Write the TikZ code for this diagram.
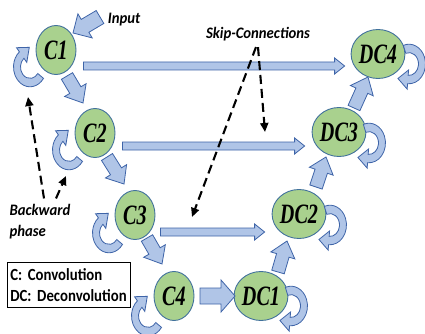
\documentclass[tikz,border=0pt]{standalone}
\usepackage{fontspec}
\setmainfont{Carlito}
\newfontfamily\nodefont[FakeStretch=0.72]{Liberation Serif}
\newfontfamily\labelfont[FakeStretch=0.92]{Carlito}
\newfontfamily\legendfont[FakeStretch=0.87]{Carlito}
\usetikzlibrary{calc,shapes.geometric,arrows.meta}

\definecolor{nodegreen}{RGB}{169,209,142}
\definecolor{nodeblue}{RGB}{65,113,156}
\definecolor{arrowfill}{RGB}{176,197,231}
\definecolor{arrowline}{RGB}{62,100,168}

\tikzset{
  layer/.style={ellipse, draw=nodeblue, line width=0.9pt, fill=nodegreen,
    minimum width=40pt, minimum height=49pt, inner sep=0pt,
    font=\nodefont\bfseries\itshape\fontsize{28}{28}\selectfont},
  blockarrow/.style={draw=arrowline, fill=arrowfill, line width=0.8pt, line join=miter},
  hint/.style={black, line width=2.1pt, dash pattern=on 9pt off 5pt,
    -{Triangle[length=9pt,width=8pt]}},
  tag/.style={font=\labelfont\bfseries\itshape\fontsize{16}{21}\selectfont,
    inner sep=0pt, align=left},
}

% straight block arrow: #1 tail, #2 tip, #3 half body width, #4 half head width, #5 head length
\newcommand\blockarrow[5]{%
  \coordinate (ba-t) at #1;
  \coordinate (ba-p) at #2;
  \coordinate (ba-h) at ($(ba-p)!#5pt!(ba-t)$);
  \draw[blockarrow] ($(ba-t)!#3pt!90:(ba-p)$) -- ($(ba-h)!#3pt!90:(ba-p)$)
    -- ($(ba-h)!#4pt!90:(ba-p)$) -- (ba-p) -- ($(ba-h)!#4pt!-90:(ba-p)$)
    -- ($(ba-h)!#3pt!-90:(ba-p)$) -- ($(ba-t)!#3pt!-90:(ba-p)$) -- cycle;
}

% curved self-loop arrow next to a node: #1 node, #2 offset of the loop centre, #3 start angle, #4 end angle
\newcommand\selfloop[4]{%
  \coordinate (#1-loop) at ([shift={(#2)}]#1.center);
  \begin{scope}[shift={(#1-loop)}, yscale=1.2]
    \draw[blockarrow] (#3:16.5) arc[start angle=#3, end angle=#4, radius=16.5]
      -- (#4:21) -- ({13*cos(#4)-10*sin(#4)},{13*sin(#4)+10*cos(#4)}) -- (#4:5) -- (#4:9.5)
      arc[start angle=#4, end angle=#3, radius=9.5] -- cycle;
  \end{scope}}

\begin{document}
\begin{tikzpicture}[x=1pt, y=-1pt]
\useasboundingbox (0,0) rectangle (425,334);

% encoder and decoder layers
\node[layer] (c1) at (56,50) {C1};
\node[layer] (c2) at (95,133) {C2};
\node[layer] (c3) at (135,215) {C3};
\node[layer] (c4) at (174,296) {C4};
\node[layer] (dc1) at (261,296) {DC1};
\node[layer] (dc2) at (299,214) {DC2};
\node[layer] (dc3) at (339,132) {DC3};
\node[layer] (dc4) at (378,54) {DC4};

% labels
\node[tag] (inputlbl) at (124,20) {Input};
\node[tag] (skiplbl) at (258,34) {Skip-Connections};
\node[tag] (backlbl) at (40,222) {Backward\\phase};
\node[draw, line width=0.6pt, anchor=north west, inner sep=3pt, text width=117pt,
  minimum height=45pt, align=left, font=\legendfont\bfseries\fontsize{17}{21}\selectfont]
  (legend) at (7,262) {C: Convolution\\DC: Deconvolution};

% input arrow
\coordinate (input) at (100,17);
\blockarrow{(input)}{([shift={(17,-17)}]c1.center)}{7.5}{14}{14}

% forward path
\blockarrow{([shift={(11,26)}]c1.center)}{([shift={(-12,-30)}]c2.center)}{6.5}{12.5}{15}
\blockarrow{([shift={(12,24)}]c2.center)}{([shift={(-11,-31)}]c3.center)}{6.5}{12.5}{15}
\blockarrow{([shift={(12,23)}]c3.center)}{([shift={(-12,-32)}]c4.center)}{6.5}{12.5}{15}
\blockarrow{([shift={(26,0)}]c4.center)}{([shift={(-26,0)}]dc1.center)}{8}{16}{14}
\blockarrow{([shift={(17,-24)}]dc1.center)}{([shift={(-12,27)}]dc2.center)}{6.5}{12.5}{15}
\blockarrow{([shift={(17,-27)}]dc2.center)}{([shift={(-13,25)}]dc3.center)}{6.5}{12.5}{15}
\blockarrow{([shift={(15,-24)}]dc3.center)}{([shift={(-10,23)}]dc4.center)}{6.5}{12.5}{15}

% skip connections
\blockarrow{([shift={(7,16)}]c1.east)}{([shift={(-6,12)}]dc4.west)}{4}{8}{10}
\blockarrow{([shift={(7,13)}]c2.east)}{([shift={(-7,14)}]dc3.west)}{4}{8}{10}
\blockarrow{([shift={(5,17)}]c3.east)}{([shift={(-7,18)}]dc2.west)}{4}{8}{10}

% self loops
\selfloop{c1}{-26,17}{35}{230}
\selfloop{c2}{-26,17}{35}{230}
\selfloop{c3}{-26,18}{35}{230}
\selfloop{c4}{-26,20}{35}{230}
\selfloop{dc1}{30,10}{-110}{95}
\selfloop{dc2}{31,11}{-110}{95}
\selfloop{dc3}{30,11}{-110}{95}
\selfloop{dc4}{31,10}{-110}{95}

% annotation pointers
\coordinate (skipA) at (192,217);
\coordinate (skipB) at (265,132);
\coordinate (backA) at (28,97);
\coordinate (backB) at (66,176);
\draw[hint] ([shift={(-2,6)}]skiplbl.south) -- (skipA);
\draw[hint] ([shift={(0,6)}]skiplbl.south) -- (skipB);
\draw[hint] ([shift={(4,-6)}]backlbl.north) -- (backA);
\draw[hint] ([shift={(16,-6)}]backlbl.north) -- (backB);
\end{tikzpicture}
\end{document}
